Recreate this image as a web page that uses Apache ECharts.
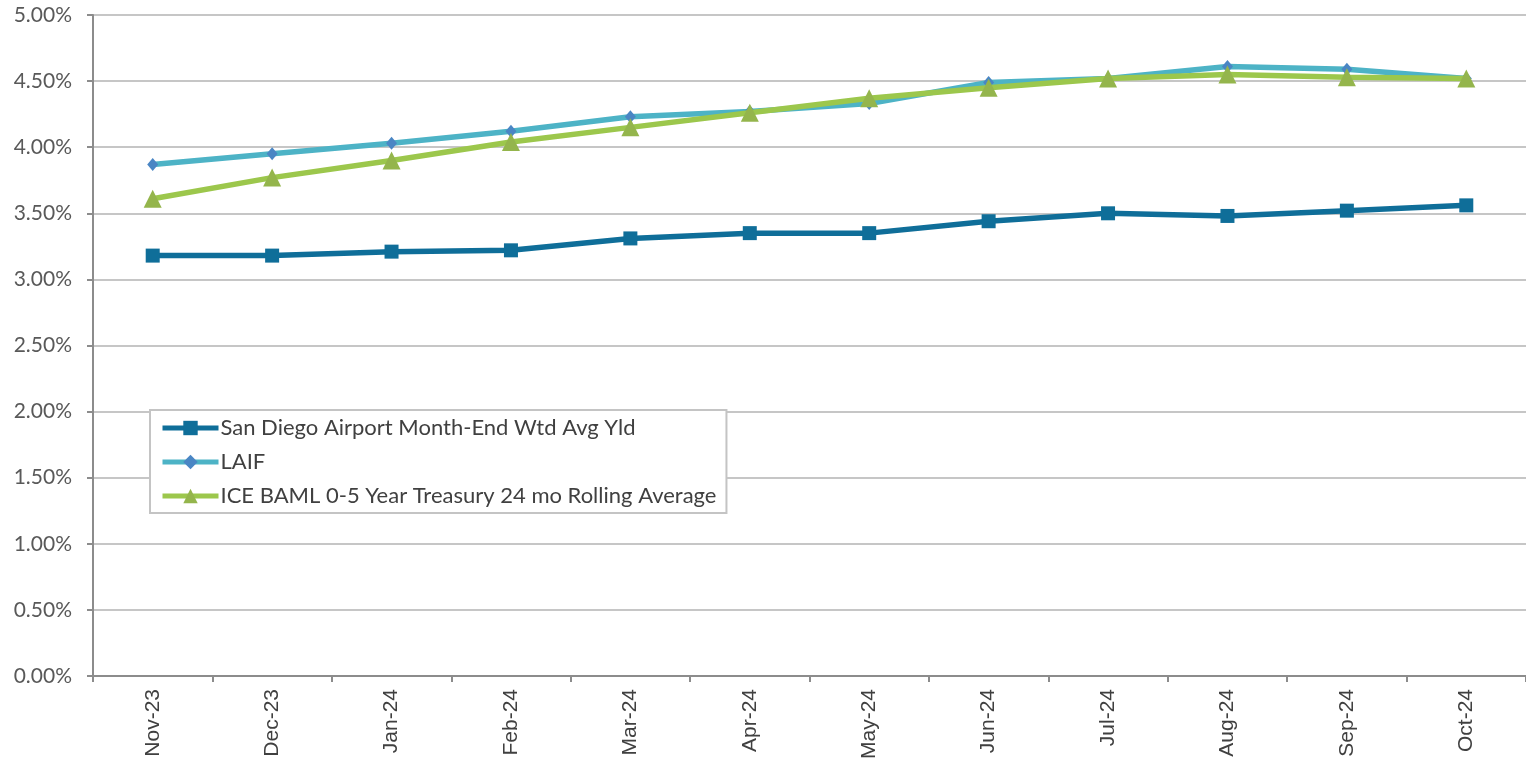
<!DOCTYPE html>
<html>
<head>
<meta charset="utf-8">
<script src="https://cdn.jsdelivr.net/npm/echarts@6/dist/echarts.min.js"></script>
<style>
  html, body { margin: 0; padding: 0; background: #ffffff; }
  #chart { width: 1526px; height: 763px; }
</style>
</head>
<body>
<div id="chart"></div>
<script>
// Month-end yields, in percent
const months = ['Nov-23', 'Dec-23', 'Jan-24', 'Feb-24', 'Mar-24', 'Apr-24',
                'May-24', 'Jun-24', 'Jul-24', 'Aug-24', 'Sep-24', 'Oct-24'];
const sanDiegoYield = [3.18, 3.18, 3.21, 3.22, 3.31, 3.35, 3.35, 3.44, 3.50, 3.48, 3.52, 3.56];
const laifYield     = [3.87, 3.95, 4.03, 4.12, 4.23, 4.27, 4.33, 4.49, 4.52, 4.61, 4.59, 4.52];
const iceBamlAvg    = [3.61, 3.77, 3.90, 4.04, 4.15, 4.26, 4.37, 4.45, 4.52, 4.55, 4.53, 4.52];
const seriesNames = [
  'San Diego Airport Month-End Wtd Avg Yld',
  'LAIF',
  'ICE BAML 0-5 Year Treasury 24 mo Rolling Average'
];

const chart = echarts.init(document.getElementById('chart'));
const axisGray = '#8c8c8c';
const labelColor = '#595959';

chart.setOption({
  animation: false,
  backgroundColor: '#ffffff',
  grid: { left: 93, right: 0, top: 15, bottom: 87, containLabel: false },
  legend: {
    left: 150, top: 410,
    orient: 'vertical',
    backgroundColor: '#ffffff',
    borderColor: '#c4c4c4',
    borderWidth: 2,
    borderRadius: 0,
    padding: [7, 10, 6, 10],
    itemGap: 12,
    itemWidth: 56,
    itemHeight: 18,
    lineStyle: { width: 5 },
    textStyle: { fontFamily: 'Lato, "Open Sans", sans-serif', fontSize: 22, color: '#404040', padding: [0, 0, 0, -3] },
    data: seriesNames
  },
  xAxis: {
    type: 'category',
    data: months,
    boundaryGap: true,
    axisLine: { show: true, lineStyle: { color: axisGray, width: 2 } },
    axisTick: { show: true, length: 6, lineStyle: { color: axisGray, width: 2 } },
    axisLabel: {
      rotate: 90, margin: 13, fontSize: 21,
      fontFamily: '"Liberation Sans", Arial, sans-serif', color: '#404040'
    },
    splitLine: { show: false }
  },
  yAxis: {
    type: 'value',
    min: 0, max: 5, interval: 0.5,
    axisLine: { show: true, lineStyle: { color: axisGray, width: 2 } },
    axisTick: { show: true, length: 6, lineStyle: { color: axisGray, width: 2 } },
    axisLabel: {
      margin: 21, fontSize: 21,
      fontFamily: 'Lato, "Open Sans", sans-serif', color: labelColor,
      formatter: v => v.toFixed(2) + '%'
    },
    splitLine: { show: true, lineStyle: { color: '#c6c6c6', width: 2 } }
  },
  series: [
    {
      name: seriesNames[0], type: 'line', data: sanDiegoYield,
      symbol: 'rect', symbolSize: 14, z: 3,
      lineStyle: { color: '#0f6e99', width: 5.5 },
      itemStyle: { color: '#0f6e99' }
    },
    {
      name: seriesNames[1], type: 'line', data: laifYield,
      symbol: 'diamond', symbolSize: [11, 13], z: 2,
      lineStyle: { color: '#4db3c6', width: 5.5 },
      itemStyle: { color: '#4a86c4' }
    },
    {
      name: seriesNames[2], type: 'line', data: iceBamlAvg,
      symbol: 'triangle', symbolSize: 18, z: 4,
      lineStyle: { color: '#9cc74c', width: 5.5 },
      itemStyle: { color: '#94b54c' }
    }
  ]
});
</script>
</body>
</html>
